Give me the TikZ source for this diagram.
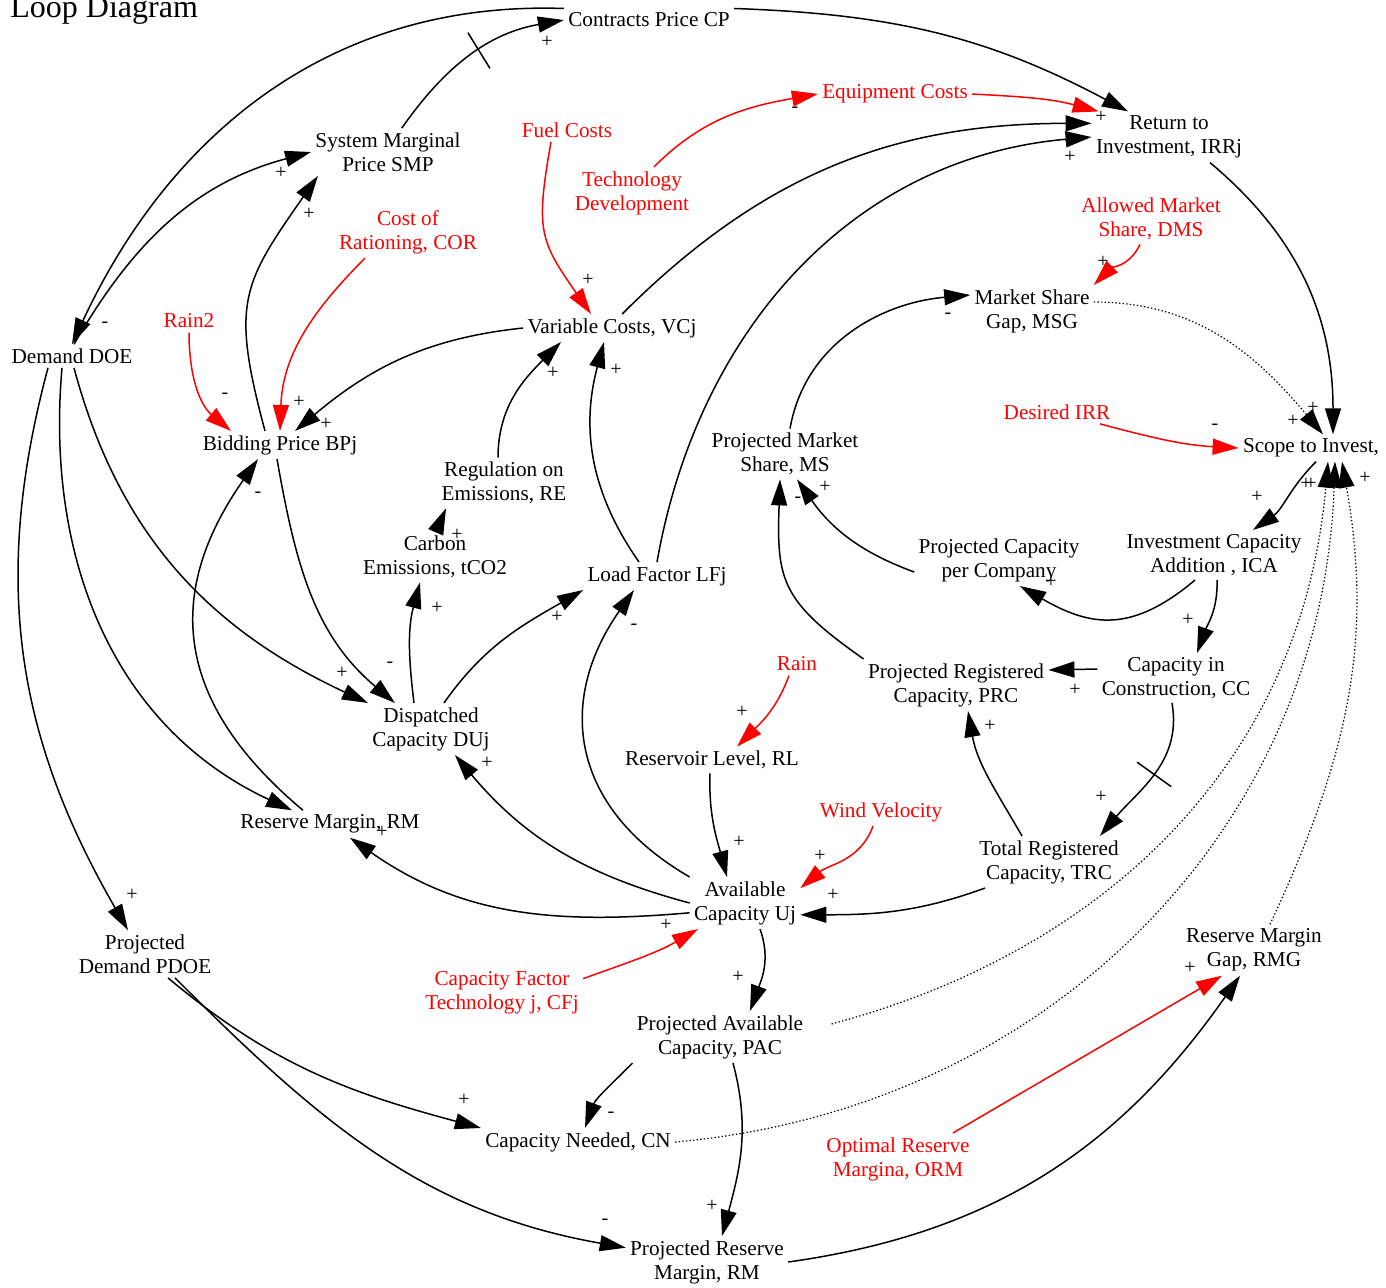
\documentclass[tikz,border=0pt]{standalone}
\usepackage{fontspec}
\setmainfont{Liberation Serif}
\usetikzlibrary{arrows.meta}

\begin{document}
\begin{tikzpicture}[x=0.5pt, y=0.5pt, >={Triangle[length=13pt,width=8pt]},
  var/.style={align=center, inner sep=2pt, yshift=-1pt, font=\fontsize{10.6}{12}\selectfont},
  ext/.style={var, text=red},
  link/.style={->, line width=0.75pt},
  extlink/.style={link, red},
  dotlink/.style={->, line width=0.6pt, dash pattern=on 0.7pt off 1.1pt},
  sgn/.style={inner sep=0pt, font=\fontsize{10}{10}\selectfont},
  delaymark/.style={draw, line width=0.75pt, minimum width=0pt, minimum height=21pt, inner sep=0pt, sloped}]

% --- FRAME ---
\useasboundingbox (0,0) rectangle (1386,-1287);
\node[anchor=base west, inner sep=0pt, font=\fontsize{16}{19}\selectfont] (title) at (10,-17) {Loop Diagram};

% --- 1. VARIABLES ---
\node[var] (cp) at (649,-18) {Contracts Price CP};
\node[var] (smp) at (388,-150) {System Marginal\\Price SMP};
\node[ext] (eqc) at (895,-92) {Equipment Costs};
\node[ext] (fuel) at (567,-128) {Fuel Costs};
\node[ext] (tech) at (632,-191) {Technology\\Development};
\node[var] (irr) at (1169,-135) {Return to\\Investment, IRRj};
\node[ext] (cor) at (408,-230) {Cost of\\Rationing, COR};
\node[ext] (dms) at (1151,-217) {Allowed Market\\Share, DMS};
\node[ext] (rain2) at (189,-319) {Rain2};
\node[var] (dem) at (72,-354) {Demand DOE};
\node[var] (vc) at (612,-326) {Variable Costs, VCj};
\node[var] (msg) at (1032,-309) {Market Share\\Gap, MSG};
\node[ext] (dirr) at (1057,-410) {Desired IRR};
\node[var] (sti) at (1311,-446) {Scope to Invest,};
\node[var] (bp) at (280,-443) {Bidding Price BPj};
\node[var] (pms) at (785,-452) {Projected Market\\Share, MS};
\node[var] (re) at (504,-481) {Regulation on\\Emissions, RE};
\node[var] (co2) at (435,-555) {Carbon\\Emissions, tCO2};
\node[var] (lf) at (657,-574) {Load Factor LFj};
\node[var] (pcc) at (999,-558) {Projected Capacity\\per Company};
\node[var] (ica) at (1214,-553) {Investment Capacity\\Addition , ICA};
\node[var] (cc) at (1176,-676) {Capacity in\\Construction, CC};
\node[var] (prc) at (956,-683) {Projected Registered\\Capacity, PRC};
\node[ext] (rain) at (797,-662) {Rain};
\node[var] (du) at (431,-727) {Dispatched\\Capacity DUj};
\node[var] (rl) at (712,-758) {Reservoir Level, RL};
\node[var] (rm) at (330,-822) {Reserve Margin, RM};
\node[ext] (wind) at (881,-810) {Wind Velocity};
\node[var] (trc) at (1049,-860) {Total Registered\\Capacity, TRC};
\node[var] (avl) at (745,-901) {Available\\Capacity Uj};
\node[var] (rmg) at (1254,-948) {Reserve Margin\\Gap, RMG};
\node[var] (pdoe) at (145,-952) {Projected\\Demand PDOE};
\node[ext] (cfj) at (502,-991) {Capacity Factor\\Technology j, CFj};
\node[var] (pac) at (720,-1035) {Projected Available\\Capacity, PAC};
\node[var] (cn) at (578,-1140) {Capacity Needed, CN};
\node[ext] (orm) at (898,-1157) {Optimal Reserve\\Margina, ORM};
\node[var] (prm) at (707,-1260) {Projected Reserve\\Margin, RM};

% --- 2. PRICE LOOPS (top) ---
\draw[link] (smp.60) to[out=55,in=190] node[delaymark,pos=0.55] (d1) {} (cp.west);
\draw[link] (cp.north west) to[out=178,in=65] (dem.north);
\draw[link] (dem.80) to[out=60,in=195] (smp.west);
\draw[link] (cp.north east) to[out=-2,in=152] (irr.148);
\draw[extlink] (tech.50) to[out=45,in=190] (eqc.west);
\draw[extlink] (eqc.east) to[out=-3,in=165] (irr.160);
\draw[link] (vc.54) to[out=45,in=180] (irr.170);
\draw[link] (lf.north) to[out=80,in=185] (irr.west);
\draw[extlink] ([xshift=-8pt]fuel.south) to[out=260,in=125,looseness=1.3] ([xshift=-10.5pt]vc.north);
\draw[extlink] ([xshift=-21.5pt]cor.south) to[out=225,in=88] (bp.north);
\draw[extlink] (rain2.south) to[out=270,in=140] ([xshift=-24.5pt]bp.north);
\draw[link] ([xshift=-7.5pt]bp.north) to[out=105,in=235,looseness=1.3] ([xshift=-35pt]smp.south);
\draw[link] (vc.west) to[out=186,in=40] ([xshift=7.5pt]bp.north);

% --- 3. DISPATCH LOOPS (left and centre) ---
\draw[link] ([xshift=1pt]dem.south) to[out=285,in=155] (du.north west);
\draw[link] ([xshift=-1.5pt]bp.south) to[out=280,in=140] ([xshift=-18pt]du.north);
\draw[link] ([xshift=-8.5pt]du.north) to[out=97,in=255] ([xshift=-7.5pt]co2.south);
\draw[link] ([xshift=0.5pt]co2.north) -- ([xshift=-29pt]re.south);
\draw[link] ([xshift=-3pt]re.north) to[out=90,in=225] ([xshift=-25.5pt]vc.south);
\draw[link] ([xshift=-9pt]lf.north) to[out=125,in=255] ([xshift=-4pt]vc.south);
\draw[link] ([xshift=6.5pt]du.north) to[out=55,in=210] (lf.south west);
\draw[link] (avl.north west) to[out=150,in=235,looseness=1.2] ([xshift=-11.5pt]lf.south);
\draw[link] (avl.west) to[out=165,in=310] ([xshift=12pt]du.south);
\draw[link] (avl.190) to[out=185,in=325] ([xshift=10pt]rm.south);
\draw[link] ([xshift=-13.5pt]rm.north) to[out=140,in=235,looseness=1.2] ([xshift=-11pt]bp.south);
\draw[link] ([xshift=-5pt]dem.south) to[out=265,in=155] ([xshift=-19pt]rm.north);
\draw[link] ([xshift=-12pt]dem.south) to[out=255,in=120] ([xshift=-8.5pt]pdoe.north);

% --- 4. PROJECTION LOOPS (bottom) ---
\draw[link] ([xshift=11.5pt]pdoe.south) to[out=320,in=165] (cn.north west);
\draw[link] ([xshift=15pt]pdoe.south) to[out=315,in=170] (prm.170);
\draw[link] ([xshift=7.5pt]avl.south) to[out=290,in=70] ([xshift=15pt]pac.north);
\draw[link] (pac.south west) to[out=225,in=70] ([xshift=3.5pt]cn.north);
\draw[link] ([xshift=6.5pt]pac.south) to[out=285,in=75] ([xshift=7.5pt]prm.north);
\draw[link] (prm.east) to[out=8,in=235] ([xshift=-7pt]rmg.south);
\draw[extlink] ([xshift=27.5pt]orm.north) -- ([xshift=-16pt]rmg.south);
\draw[extlink] (cfj.10) to[out=20,in=210] ([xshift=-23.5pt]avl.south);
\draw[link] ([xshift=-1pt]rl.south) to[out=268,in=105] ([xshift=-9pt]avl.north);
\draw[extlink] ([xshift=-4pt]rain.south) to[out=250,in=45] ([xshift=12.5pt]rl.north);
\draw[extlink] ([xshift=-4pt]wind.south) to[out=250,in=40] (avl.15);

% --- 5. INVESTMENT LOOPS (right) ---
\draw[link] ([xshift=-32pt]trc.south) to[out=200,in=0] (avl.348);
\draw[link] ([xshift=-13.5pt]trc.north) to[out=120,in=280] ([xshift=6pt]prc.south);
\draw[link] ([xshift=-2pt]cc.south) to[out=280,in=50] node[delaymark,pos=0.5] (d2) {} ([xshift=25.5pt]trc.north);
\draw[link] ([yshift=4.5pt]cc.west) -- ([yshift=7.5pt]prc.east);
\draw[link] ([xshift=1.5pt]ica.south) to[out=272,in=70] ([xshift=10.5pt]cc.north);
\draw[link] ([xshift=-9.5pt]ica.south) to[out=220,in=330,looseness=1.2] ([xshift=10.5pt]pcc.south);
\draw[link] ([xshift=2.5pt]sti.south) to[out=225,in=35] ([xshift=19.5pt]ica.north);
\draw[extlink] ([xshift=21.5pt]dirr.south) to[out=345,in=177] (sti.west);
\draw[link] ([xshift=20.5pt]irr.south) to[out=-40,in=90] ([xshift=11pt]sti.north);
\draw[extlink] ([xshift=-5.5pt]dms.south) to[out=245,in=45] (msg.north east);
\draw[link] ([xshift=2.5pt]pms.north) to[out=80,in=185] ([yshift=8pt]msg.west);
\draw[link] (prc.north west) to[out=145,in=268,looseness=1.3] ([xshift=-2.5pt]pms.south);
\draw[link] ([yshift=-6pt]pcc.west) to[out=160,in=305] ([xshift=6pt]pms.south);

% dotted gap links into Scope to Invest
\draw[dotlink] ([yshift=4.5pt]msg.east) to[out=0,in=130] ([xshift=6pt]sti.north);
\draw[dotlink] ([xshift=12pt,yshift=6.5pt]pac.east) to[out=15,in=265] ([xshift=8.5pt]sti.south);
\draw[dotlink] (cn.east) to[out=5,in=268] ([xshift=12pt]sti.south);
\draw[dotlink] ([xshift=8pt]rmg.north) to[out=65,in=280] ([xshift=15.5pt]sti.south);

% --- 6. POLARITIES ---
\foreach \x/\y/\s [count=\i] in {547/42/+, 105/325/-, 281/173/+, 795/110/-, 1101/117/+,
    1068/143/-, 1070/157/+, 309/214/+, 588/280/+, 1103/262/+, 948/316/-, 225/396/-,
    299/402/+, 326/424/+, 258/495/-, 553/373/+, 616/370/+, 1215/427/-, 1293/421/+,
    1313/408/+, 1257/497/+, 1306/484/+, 1311/484/+, 1365/478/+, 798/500/-, 825/487/+,
    457/535/+, 1051/582/+, 1188/620/+, 437/608/+, 557/617/+, 634/627/-, 342/673/+,
    390/665/-, 1075/690/+, 742/712/+, 990/726/+, 487/763/+, 1101/797/+, 382/832/+,
    739/842/+, 820/856/+, 833/895/+, 132/895/+, 666/925/+, 738/977/+, 1190/968/+,
    464/1100/+, 611/1115/-, 712/1206/+, 605/1222/-}
  \node[sgn] (s\i) at (\x,-\y) {\s};

\end{tikzpicture}
\end{document}
